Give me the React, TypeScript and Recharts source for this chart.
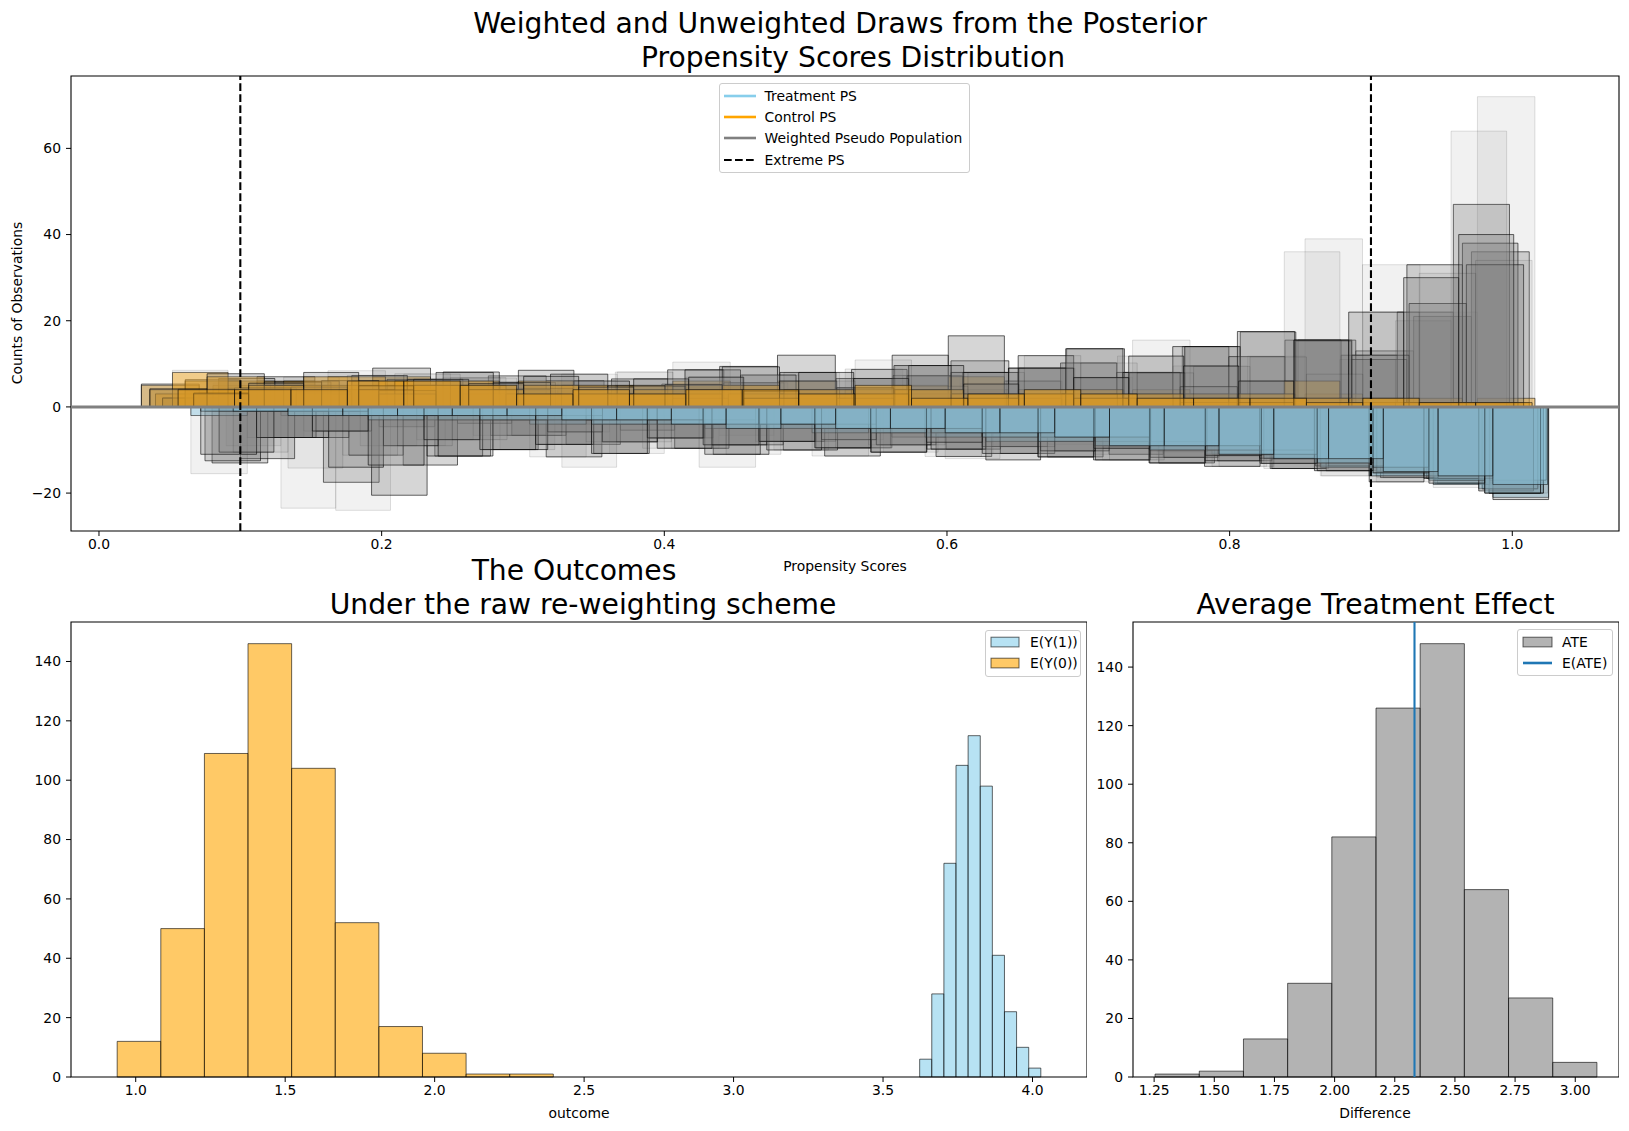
import React from "react";
import {
  ComposedChart,
  XAxis,
  YAxis,
  ReferenceArea,
  ReferenceLine,
} from "recharts";

const FONT = "'DejaVu Sans', Verdana, sans-serif";

// Posterior draws of the propensity score. Each draw gives a 24-bin histogram
// of control units (up), treated units (down) and their IPW-weighted versions.
const controlRanges = [
  [0.03, 1.012],
  [0.04, 1.016],
  [0.045, 0.998],
  [0.061, 1.004],
  [0.052, 0.996],
  [0.036, 1.008],
  [0.067, 1.001],
  [0.056, 1.014],
];
const treatedRanges = [
  [0.08, 1.0257],
  [0.09, 1.02],
  [0.1, 1.022],
  [0.075, 1.018],
  [0.065, 1.024],
  [0.085, 1.015],
  [0.072, 1.02],
  [0.095, 1.025],
];

const controlCounts = [
  [5, 3, 6, 4, 7, 3, 5, 4, 2, 3, 5, 6, 2, 3, 4, 3, 4, 2, 3, 1, 2, 1, 1, 1],
  [3, 5, 4, 7, 4, 5, 2, 4, 5, 6, 3, 2, 4, 3, 2, 3, 2, 4, 2, 2, 3, 2, 1, 2],
  [2, 6, 5, 3, 5, 6, 4, 2, 4, 5, 3, 4, 3, 5, 7, 2, 3, 2, 3, 2, 2, 1, 1, 1],
  [6, 4, 3, 6, 5, 3, 6, 4, 3, 5, 4, 2, 4, 3, 3, 4, 2, 2, 3, 3, 2, 1, 2, 1],
  [8, 4, 6, 4, 6, 5, 3, 5, 5, 2, 3, 4, 3, 4, 3, 2, 3, 3, 2, 2, 6, 1, 1, 1],
  [4, 7, 5, 5, 3, 6, 4, 5, 3, 3, 5, 3, 2, 4, 3, 3, 4, 2, 1, 3, 2, 1, 1, 1],
  [3, 5, 7, 4, 5, 4, 5, 3, 4, 4, 2, 4, 3, 4, 2, 3, 2, 3, 2, 1, 2, 2, 1, 1],
  [4, 4, 4, 6, 6, 5, 3, 4, 3, 4, 4, 3, 5, 2, 3, 4, 3, 2, 2, 2, 1, 2, 1, 1],
];
const controlWeighted = [
  [5.3, 3.4, 7, 4.9, 9, 4.1, 7.2, 6.1, 3.3, 5.3, 9.4, 12, 4.5, 7.3, 10.7, 9, 13.5, 8, 14, 6, 15.5, 13, 21, 36],
  [3.2, 5.5, 4.7, 8.4, 5.2, 6.8, 2.9, 6.1, 8.1, 10.4, 5.6, 4.1, 8.8, 7.3, 5.4, 9, 6.9, 15.5, 9.5, 11.8, 39, 33, 22, 72],
  [2.1, 6.6, 5.8, 3.7, 6.4, 8.1, 5.7, 3.1, 6.5, 8.6, 5.6, 8, 6.6, 12, 16.5, 6, 10.2, 8, 14, 11.7, 15.5, 12, 22, 47],
  [6.3, 4.4, 3.5, 7.3, 6.4, 4, 8.5, 6, 4.8, 8.6, 7.4, 4, 8.7, 7.2, 8, 11.9, 6.8, 7.9, 14, 17.4, 15.3, 11, 33, 38],
  [8.5, 4.4, 6.9, 4.9, 7.7, 6.8, 4.3, 7.6, 8.1, 3.5, 5.6, 8, 6.6, 9.6, 8, 6, 10.2, 11.8, 9.5, 11.6, 36, 11, 20, 64],
  [4.2, 7.7, 5.8, 6.1, 3.8, 8, 5.7, 7.6, 4.9, 5.2, 9.3, 6, 4.4, 9.6, 8, 9, 13.5, 8, 4.7, 17.5, 15.5, 12, 24, 33],
  [3.2, 5.5, 8, 4.9, 6.4, 5.4, 7.1, 4.6, 6.5, 6.9, 3.7, 8, 6.6, 9.6, 5.3, 9, 6.8, 11.8, 9.5, 6, 15.5, 22, 30, 40],
  [4.2, 4.4, 4.6, 7.3, 7.6, 6.7, 4.3, 6, 4.8, 6.9, 7.4, 6, 10.9, 4.8, 8, 11.9, 10.2, 7.9, 9.4, 11.6, 7.6, 22, 31, 34],
];
const treatedCounts = [
  [1, 1, 2, 1, 3, 2, 4, 3, 3, 5, 4, 6, 5, 7, 6, 8, 7, 10, 9, 12, 12, 14, 17, 21],
  [1, 2, 1, 2, 2, 3, 2, 4, 4, 3, 5, 4, 6, 5, 7, 6, 9, 8, 11, 10, 14, 16, 15, 18],
  [1, 1, 2, 3, 1, 2, 3, 2, 4, 4, 5, 5, 4, 6, 7, 7, 8, 9, 10, 12, 13, 15, 17, 20],
  [1, 1, 1, 2, 3, 3, 3, 4, 3, 5, 4, 5, 6, 6, 6, 8, 9, 10, 11, 11, 12, 14, 16, 19],
  [2, 1, 1, 2, 2, 2, 4, 3, 4, 3, 4, 6, 5, 7, 6, 7, 8, 8, 10, 12, 14, 15, 18, 17],
  [1, 1, 2, 2, 3, 3, 2, 3, 4, 4, 5, 4, 5, 6, 8, 7, 9, 9, 10, 10, 13, 16, 16, 19],
  [1, 1, 1, 3, 2, 3, 3, 4, 3, 4, 4, 5, 6, 5, 7, 8, 7, 10, 9, 11, 13, 14, 17, 20],
  [1, 2, 2, 2, 2, 2, 3, 3, 4, 5, 4, 5, 5, 6, 6, 7, 9, 9, 11, 12, 12, 15, 16, 18],
];
const treatedWeighted = [
  [13, 7.1, 17.5, 4.6, 11.4, 6.6, 11.6, 8.1, 7.2, 11, 8, 11.4, 8.8, 11.5, 9.2, 11.6, 9.6, 13, 11.3, 14.3, 13.7, 15.3, 17.7, 21.5],
  [9, 23.5, 24, 9, 7.6, 9.9, 5.8, 10.8, 9.6, 6.6, 10, 7.6, 10.5, 8.2, 10.8, 8.7, 12.3, 10.4, 13.8, 11.9, 16, 17.4, 15.6, 18.5],
  [12, 7.1, 11.2, 13.5, 3.8, 6.6, 8.7, 5.4, 9.6, 8.8, 10, 9.5, 7, 9.8, 10.8, 10.2, 11, 11.7, 12.5, 14.3, 14.8, 16.4, 17.7, 20],
  [12.5, 7.1, 5.6, 20.5, 11.4, 9.9, 8.7, 10.8, 7.2, 11, 8, 9.5, 10.5, 9.8, 9.2, 11.6, 12.3, 13, 13.8, 13.1, 13.7, 15.3, 16.6, 19],
  [15.5, 7.1, 5.6, 9, 7.6, 6.6, 11.6, 8.1, 9.6, 14, 8, 11.4, 8.8, 11.5, 9.2, 10.2, 11, 10.4, 12.5, 14.3, 16, 16.4, 18.7, 17.5],
  [10.5, 7.1, 14, 9, 11.4, 9.9, 5.8, 8.1, 9.6, 8.8, 10, 7.6, 8.8, 9.8, 12.3, 10.2, 12.3, 11.7, 12.5, 11.9, 14.8, 17.4, 16.6, 19.5],
  [11, 7.1, 5.6, 13.5, 7.6, 9.9, 8.7, 10.8, 7.2, 8.8, 8, 9.5, 10.5, 8.2, 10.8, 11.6, 9.6, 13, 11.3, 13.1, 14.8, 15.3, 17.7, 20],
  [10.5, 14.2, 11.2, 9, 7.6, 6.6, 14, 8.1, 9.6, 11, 8, 9.5, 8.8, 12, 9.2, 10.2, 12.3, 11.7, 13.8, 14.3, 13.7, 16.4, 16.6, 20],
];
// draws whose weighted histogram is drawn lighter
const faintDraws = [1, 4, 7];

const psTicks = [0, 0.2, 0.4, 0.6, 0.8, 1.0];
const countTicks = [-20, 0, 20, 40, 60];
const extremePs = [0.1, 0.9];

// Outcome histograms under the raw re-weighting scheme
const y1Edges = [3.6225, 3.663, 3.7036, 3.7441, 3.7846, 3.8252, 3.8657, 3.9062, 3.9467, 3.9873, 4.0278];
const y1Counts = [6, 28, 72, 105, 115, 98, 41, 22, 10, 3];
const y0Edges = [0.938, 1.0839, 1.2298, 1.3757, 1.5216, 1.6675, 1.8134, 1.9593, 2.1052, 2.2511, 2.397];
const y0Counts = [12, 50, 109, 146, 104, 52, 17, 8, 1, 1];
const outcomeTicks = [1.0, 1.5, 2.0, 2.5, 3.0, 3.5, 4.0];

// Average treatment effect
const ateEdges = [1.254, 1.4376, 1.6212, 1.8048, 1.9884, 2.172, 2.3556, 2.5392, 2.7228, 2.9064, 3.09];
const ateCounts = [1, 2, 13, 32, 82, 126, 148, 64, 27, 5];
const ateMean = 2.332;
const ateTicks = [1.25, 1.5, 1.75, 2.0, 2.25, 2.5, 2.75, 3.0];
const freqTicks = [0, 20, 40, 60, 80, 100, 120, 140];

const TOP_X: [number, number] = [-0.0198, 1.0755];
const TOP_Y: [number, number] = [-28.8, 76.8];
const OUT_X: [number, number] = [0.7835, 4.1823];
const OUT_Y: [number, number] = [0, 153.3];
const ATE_X: [number, number] = [1.1622, 3.1818];
const ATE_Y: [number, number] = [0, 155.4];

const tickStyle = { fill: "#000", fontSize: 13.9, fontFamily: FONT };
const minus = (v: number) => (v < 0 ? `\u2212${Math.abs(v)}` : `${v}`);

function binRects(
  lo: number,
  hi: number,
  values: number[],
  sign: number,
  fill: string,
  fillOpacity: number,
  strokeOpacity: number,
  key: string
) {
  const w = (hi - lo) / values.length;
  return values.map((v, i) => (
    <ReferenceArea
      key={`${key}-${i}`}
      x1={lo + i * w}
      x2={lo + (i + 1) * w}
      y1={0}
      y2={sign * v}
      fill={fill}
      fillOpacity={fillOpacity}
      stroke="#000"
      strokeOpacity={strokeOpacity}
      strokeWidth={1}
    />
  ));
}

function edgeRects(edges: number[], counts: number[], fill: string, key: string) {
  return counts.map((c, i) => (
    <ReferenceArea
      key={`${key}-${i}`}
      x1={edges[i]}
      x2={edges[i + 1]}
      y1={0}
      y2={c}
      fill={fill}
      fillOpacity={0.6}
      stroke="#000"
      strokeOpacity={0.6}
      strokeWidth={1}
    />
  ));
}

function Frame({ x, y }: { x: [number, number]; y: [number, number] }) {
  return (
    <ReferenceArea
      x1={x[0]}
      x2={x[1]}
      y1={y[0]}
      y2={y[1]}
      fill="none"
      stroke="#000"
      strokeWidth={1.1}
    />
  );
}

function Text({
  x,
  y,
  size,
  rotate,
  children,
}: {
  x: number;
  y: number;
  size: number;
  rotate?: boolean;
  children: React.ReactNode;
}) {
  return (
    <div
      style={{
        position: "absolute",
        left: x,
        top: y,
        transform: `translate(-50%, -50%)${rotate ? " rotate(-90deg)" : ""}`,
        fontFamily: FONT,
        fontSize: size,
        lineHeight: 1.16,
        whiteSpace: "nowrap",
        color: "#000",
      }}
    >
      {children}
    </div>
  );
}

type Entry = { label: string; kind: "line" | "dash" | "patch"; color: string };

function LegendBox({
  left,
  top,
  width,
  height,
  rows,
  entries,
  handle,
  textLeft,
}: {
  left: number;
  top: number;
  width: number;
  height: number;
  rows: number[];
  entries: Entry[];
  handle: [number, number];
  textLeft: number;
}) {
  return (
    <div
      style={{
        position: "absolute",
        left,
        top,
        width,
        height,
        border: "1px solid #cccccc",
        borderRadius: 3,
        background: "rgba(255,255,255,0.8)",
        boxSizing: "border-box",
        fontFamily: FONT,
        fontSize: 13.9,
      }}
    >
      {entries.map((e, i) => (
        <div key={e.label} style={{ position: "absolute", left: 0, top: rows[i] - 9, height: 18, width: "100%" }}>
          <svg
            width={handle[1] - handle[0] + 2}
            height={18}
            style={{ position: "absolute", left: handle[0] - 1, top: 0 }}
          >
            {e.kind === "patch" ? (
              <rect
                x={1}
                y={4.2}
                width={handle[1] - handle[0]}
                height={9.7}
                fill={e.color}
                fillOpacity={0.6}
                stroke="#000"
                strokeOpacity={0.6}
                strokeWidth={1}
              />
            ) : (
              <line
                x1={1}
                x2={handle[1] - handle[0] + 1}
                y1={9}
                y2={9}
                stroke={e.color}
                strokeWidth={e.kind === "dash" ? 2.1 : 2.6}
                strokeDasharray={e.kind === "dash" ? "7.7 3.3" : undefined}
              />
            )}
          </svg>
          <span style={{ position: "absolute", left: textLeft, top: 0, lineHeight: "18px", whiteSpace: "nowrap" }}>
            {e.label}
          </span>
        </div>
      ))}
    </div>
  );
}

function PropensityChart() {
  const layers: React.ReactNode[] = [];
  controlRanges.forEach((cr, d) => {
    const tr = treatedRanges[d];
    const faint = faintDraws.includes(d);
    const gFill = faint ? 0.11 : 0.32;
    const gEdge = faint ? 0.12 : 0.6;
    layers.push(...binRects(tr[0], tr[1], treatedCounts[d], -1, "#87ceeb", 0.45, 0.55, `tc${d}`));
    layers.push(...binRects(cr[0], cr[1], controlCounts[d], 1, "#ffa500", 0.45, 0.55, `cc${d}`));
    layers.push(...binRects(tr[0], tr[1], treatedWeighted[d], -1, "#808080", gFill, gEdge, `tw${d}`));
    layers.push(...binRects(cr[0], cr[1], controlWeighted[d], 1, "#808080", gFill, gEdge, `cw${d}`));
  });

  return (
    <div style={{ position: "absolute", left: 0, top: 0 }}>
      <ComposedChart width={1629} height={571} margin={{ top: 76, right: 10, bottom: 0, left: 0 }}>
        <XAxis
          type="number"
          dataKey="x"
          domain={TOP_X}
          allowDataOverflow
          ticks={psTicks}
          tickFormatter={(v: number) => v.toFixed(1)}
          tick={tickStyle}
          tickSize={5}
          tickMargin={3.5}
          tickLine={{ stroke: "#000" }}
          axisLine={false}
          height={40}
          interval={0}
        />
        <YAxis
          type="number"
          domain={TOP_Y}
          allowDataOverflow
          ticks={countTicks}
          tickFormatter={minus}
          tick={tickStyle}
          tickSize={5}
          tickMargin={5}
          tickLine={{ stroke: "#000" }}
          axisLine={false}
          width={71}
          interval={0}
        />
        {layers}
        <ReferenceLine y={0} stroke="#808080" strokeWidth={3} />
        {extremePs.map((p) => (
          <ReferenceLine key={p} x={p} stroke="#000" strokeWidth={2.1} strokeDasharray="7.7 3.3" />
        ))}
        <Frame x={TOP_X} y={TOP_Y} />
      </ComposedChart>
    </div>
  );
}

function OutcomeChart() {
  return (
    <div style={{ position: "absolute", left: 0, top: 600 }}>
      <ComposedChart width={1087} height={517} margin={{ top: 22, right: 0, bottom: 0, left: 0 }}>
        <XAxis
          type="number"
          dataKey="x"
          domain={OUT_X}
          allowDataOverflow
          ticks={outcomeTicks}
          tickFormatter={(v: number) => v.toFixed(1)}
          tick={tickStyle}
          tickSize={5}
          tickMargin={3.5}
          tickLine={{ stroke: "#000" }}
          axisLine={false}
          height={40}
          interval={0}
        />
        <YAxis
          type="number"
          domain={OUT_Y}
          allowDataOverflow
          ticks={freqTicks}
          tick={tickStyle}
          tickSize={5}
          tickMargin={5}
          tickLine={{ stroke: "#000" }}
          axisLine={false}
          width={71}
          interval={0}
        />
        {edgeRects(y1Edges, y1Counts, "#87ceeb", "y1")}
        {edgeRects(y0Edges, y0Counts, "#ffa500", "y0")}
        <Frame x={OUT_X} y={OUT_Y} />
      </ComposedChart>
    </div>
  );
}

function AteChart() {
  return (
    <div style={{ position: "absolute", left: 1080, top: 600 }}>
      <ComposedChart width={539} height={517} margin={{ top: 22, right: 0, bottom: 0, left: 0 }}>
        <XAxis
          type="number"
          dataKey="x"
          domain={ATE_X}
          allowDataOverflow
          ticks={ateTicks}
          tickFormatter={(v: number) => v.toFixed(2)}
          tick={tickStyle}
          tickSize={5}
          tickMargin={3.5}
          tickLine={{ stroke: "#000" }}
          axisLine={false}
          height={40}
          interval={0}
        />
        <YAxis
          type="number"
          domain={ATE_Y}
          allowDataOverflow
          ticks={freqTicks}
          tick={tickStyle}
          tickSize={5}
          tickMargin={5}
          tickLine={{ stroke: "#000" }}
          axisLine={false}
          width={53}
          interval={0}
        />
        {edgeRects(ateEdges, ateCounts, "#808080", "ate")}
        <ReferenceLine x={ateMean} stroke="#1f77b4" strokeWidth={2.1} />
        <Frame x={ATE_X} y={ATE_Y} />
      </ComposedChart>
    </div>
  );
}

export default function App() {
  return (
    <div
      style={{
        position: "absolute",
        left: 0,
        top: 0,
        width: 1629,
        height: 1131,
        background: "#fff",
        overflow: "hidden",
      }}
    >
      <PropensityChart />
      <OutcomeChart />
      <AteChart />

      <Text x={840} y={24} size={28.2}>Weighted and Unweighted Draws from the Posterior</Text>
      <Text x={853} y={58} size={28.2}>Propensity Scores Distribution</Text>
      <Text x={845} y={566} size={13.9}>Propensity Scores</Text>
      <Text x={16.6} y={303} size={13.9} rotate>Counts of Observations</Text>

      <Text x={574} y={571} size={28.2}>The Outcomes</Text>
      <Text x={583} y={605} size={28.2}>Under the raw re-weighting scheme</Text>
      <Text x={579} y={1113} size={13.9}>outcome</Text>

      <Text x={1375.5} y={605} size={28.2}>Average Treatment Effect</Text>
      <Text x={1375} y={1113} size={13.9}>Difference</Text>

      <LegendBox
        left={719}
        top={83}
        width={251}
        height={90}
        rows={[11.5, 33, 54, 76]}
        handle={[4, 36]}
        textLeft={44.6}
        entries={[
          { label: "Treatment PS", kind: "line", color: "#87ceeb" },
          { label: "Control PS", kind: "line", color: "#ffa500" },
          { label: "Weighted Pseudo Population", kind: "line", color: "#808080" },
          { label: "Extreme PS", kind: "dash", color: "#000" },
        ]}
      />
      <LegendBox
        left={985}
        top={630}
        width={96}
        height={47}
        rows={[11, 32.4]}
        handle={[5, 33]}
        textLeft={44}
        entries={[
          { label: "E(Y(1))", kind: "patch", color: "#87ceeb" },
          { label: "E(Y(0))", kind: "patch", color: "#ffa500" },
        ]}
      />
      <LegendBox
        left={1517}
        top={629}
        width={96}
        height={47}
        rows={[12, 32.7]}
        handle={[5, 34]}
        textLeft={44}
        entries={[
          { label: "ATE", kind: "patch", color: "#808080" },
          { label: "E(ATE)", kind: "line", color: "#1f77b4" },
        ]}
      />
    </div>
  );
}
